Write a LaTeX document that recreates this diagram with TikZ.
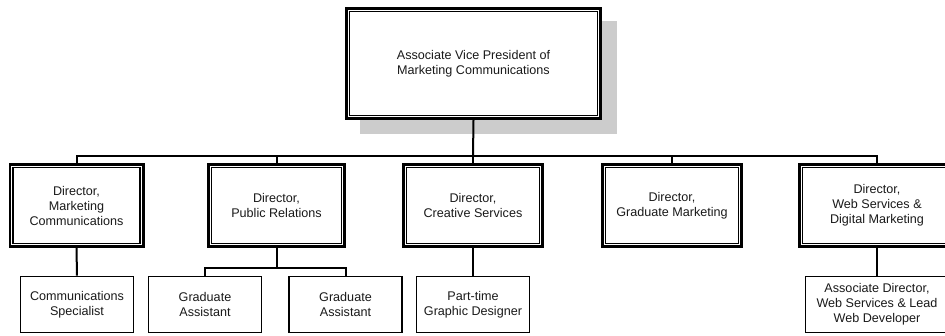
\documentclass[tikz,border=0pt]{standalone}
\usepackage{fontspec}
\setmainfont{Liberation Sans}
\usetikzlibrary{backgrounds}
\definecolor{shadowgray}{HTML}{CCCCCC}
\definecolor{txt}{HTML}{1A1A1A}
\tikzset{
  dirbox/.style={fill=white, draw=black, line width=1.2pt,
    preaction={draw=black, line width=9pt},
    preaction={draw=white, line width=3.4pt},
    outer sep=4.5pt, inner sep=0pt, align=center, text=txt,
    font=\fontsize{12.6}{15}\selectfont, minimum height=76pt},
  staffbox/.style={fill=white, draw=black, line width=1.7pt, inner sep=0pt,
    align=center, text=txt, font=\fontsize{12.6}{15}\selectfont,
    minimum height=56pt, minimum width=113pt},
  link/.style={draw=black, line width=2pt},
}
\begin{document}
\begin{tikzpicture}[x=1pt,y=-1pt]
\useasboundingbox (0,0) rectangle (945,335);
\clip (0,0) rectangle (945,335);
% top
\node[dirbox, minimum width=248pt, minimum height=104pt] (avp) at (473.5,63.5)
  {Associate Vice President of\\Marketing Communications};
% directors
\node[dirbox, minimum width=127pt] (d1) at (76.5,205.5) {Director,\\Marketing\\Communications};
\node[dirbox, minimum width=130pt] (d2) at (276.5,205.5) {Director,\\Public Relations};
\node[dirbox, minimum width=133pt] (d3) at (473,205.5) {Director,\\Creative Services};
\node[dirbox, minimum width=133pt] (d4) at (672,205.5) {Director,\\Graduate Marketing};
\node[dirbox, minimum width=149pt] (d5) at (877,205.5) {Director,\\Web Services \&\\Digital Marketing};
% staff
\node[staffbox] (s1) at (77,304.5) {Communications\\Specialist};
\node[staffbox] (s2) at (205,304.5) {Graduate\\Assistant};
\node[staffbox] (s3) at (345.5,304.5) {Graduate\\Assistant};
\node[staffbox] (s4) at (473,304.5) {Part-time\\Graphic Designer};
\node[staffbox, minimum width=143pt] (s5) at (877,304.5) {Associate Director,\\Web Services \& Lead\\Web Developer};
\coordinate (bus) at (473,155.5);
\coordinate (prbus) at (276.5,268);
\begin{scope}[on background layer]
  \fill[shadowgray] ([shift={(15,14)}]avp.north west) rectangle ([shift={(15,14)}]avp.south east);
  \draw[link] (avp.south) -- (bus);
  \draw[link] (d1.north) |- (bus) -| (d5.north);
  \draw[link] (d2.north) -- (d2.north |- bus);
  \draw[link] (d3.north) -- (bus);
  \draw[link] (d4.north) -- (d4.north |- bus);
  \draw[link] (d1.south) -- (s1.north);
  \draw[link] (d2.south) -- (prbus);
  \draw[link] (s2.north) |- (prbus) -| (s3.north);
  \draw[link] (d3.south) -- (s4.north);
  \draw[link] (d5.south) -- (s5.north);
\end{scope}
\end{tikzpicture}
\end{document}
